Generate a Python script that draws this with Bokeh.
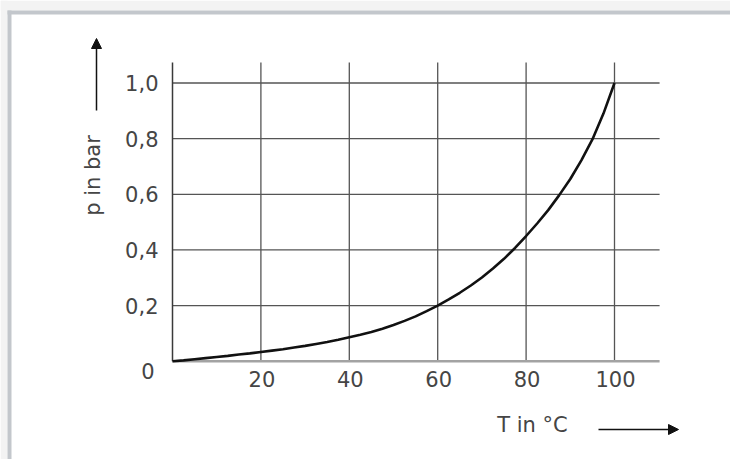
import math
from bokeh.plotting import figure
from bokeh.models import Range1d, Arrow, NormalHead, ColumnDataSource
from bokeh.core.properties import value
from bokeh.embed import file_html
from bokeh.resources import INLINE

# data (water vapour pressure curve)
temps = [0, 2.5, 5, 7.5, 10, 12.5, 15, 17.5, 20, 22.5, 25, 27.5, 30, 32.5, 35, 37.5,
         40, 42.5, 45, 47.5, 50, 52.5, 55, 57.5, 60, 62.5, 65, 67.5, 70, 72.5, 75,
         77.5, 80, 82.5, 85, 87.5, 90, 92.5, 95, 97.5, 100]
pressure = [0.0, 0.003, 0.007, 0.011, 0.015, 0.019, 0.024, 0.028, 0.033, 0.038, 0.043,
            0.049, 0.055, 0.062, 0.069, 0.077, 0.086, 0.095, 0.105, 0.117, 0.13, 0.145,
            0.161, 0.18, 0.2, 0.222, 0.246, 0.272, 0.301, 0.333, 0.368, 0.407, 0.45,
            0.495, 0.543, 0.597, 0.655, 0.722, 0.797, 0.89, 1.0]

x_ticks = [20, 40, 60, 80, 100]
x_tick_labels = ["20", "40", "60", "80", "100"]
y_ticks = [0.2, 0.4, 0.6, 0.8, 1.0]
y_tick_labels = ["0,2", "0,4", "0,6", "0,8", "1,0"]
zero_label = "0"
y_title = "p in bar"
x_title = "T in °C"

# plot extent in data units (grid reaches a little beyond the last tick)
X_MAX = 110.2
Y_MAX = 1.074

# layout: pixel position of the origin and pixel scale
W_FIG, H_FIG = 730, 459
OX, OY = 172, 360.7        # pixel of (0, 0)
SX, SY = 4.42, 278.2       # pixels per unit


def X(px):
    return (px - OX) / SX


def Y(py):
    return (OY - py) / SY


FONT = value("DejaVu Sans")
TXT = "#454545"
FS = "21px"

p = figure(width=W_FIG, height=H_FIG, output_backend="svg", toolbar_location=None,
           x_axis_type=None, y_axis_type=None,
           x_range=Range1d(X(0), X(W_FIG)), y_range=Range1d(Y(H_FIG), Y(0)),
           min_border=0)
p.background_fill_color = "white"
p.border_fill_color = "white"
p.outline_line_color = None
p.grid.visible = False

# page frame: light page background and grey border at top/left
p.quad(left=X(0), right=X(W_FIG), top=Y(0), bottom=Y(10), fill_color="#f3f3f3", line_color=None)
p.quad(left=X(0), right=X(7), top=Y(0), bottom=Y(H_FIG), fill_color="#f3f3f3", line_color=None)
p.quad(left=X(7), right=X(W_FIG), top=Y(10), bottom=Y(14), fill_color="#c3c7cc", line_color=None)
p.quad(left=X(7), right=X(11), top=Y(10), bottom=Y(H_FIG), fill_color="#c3c7cc", line_color=None)

# grid lines
p.segment(x0=x_ticks, y0=[0] * len(x_ticks), x1=x_ticks, y1=[Y_MAX] * len(x_ticks),
          line_color="#555555", line_width=1.3)
p.segment(x0=[0] * len(y_ticks), y0=y_ticks, x1=[X_MAX] * len(y_ticks), y1=y_ticks,
          line_color="#555555", line_width=1.3)

# axis lines
p.segment(x0=[0], y0=[0], x1=[X_MAX], y1=[0], line_color="#a3a3a3", line_width=2.5)
p.segment(x0=[0], y0=[0], x1=[0], y1=[Y_MAX], line_color="#3a3a3a", line_width=1.5)

# curve
p.line(temps, pressure, line_width=2.6, line_color="#111111")

# tick labels
p.text(x=x_ticks, y=[0] * len(x_ticks), text=x_tick_labels, x_offset=1, y_offset=18,
       text_align="center", text_baseline="middle",
       text_font=FONT, text_font_size=FS, text_color=TXT)
p.text(x=[0] * len(y_ticks), y=y_ticks, text=y_tick_labels, x_offset=-14, y_offset=0,
       text_align="right", text_baseline="middle",
       text_font=FONT, text_font_size=FS, text_color=TXT)
p.text(x=[0], y=[0], text=[zero_label], x_offset=-24.5, y_offset=10,
       text_align="center", text_baseline="middle",
       text_font=FONT, text_font_size=FS, text_color=TXT)

# axis titles
p.text(x=[X(92)], y=[Y(175)], text=[y_title], angle=math.pi / 2,
       text_align="center", text_baseline="middle",
       text_font=FONT, text_font_size=FS, text_color=TXT)
p.text(x=[X(532)], y=[Y(424)], text=[x_title],
       text_align="center", text_baseline="middle",
       text_font=FONT, text_font_size=FS, text_color=TXT)

# arrows next to the axis titles
p.add_layout(Arrow(x_start=X(96), y_start=Y(110), x_end=X(96), y_end=Y(38),
                   line_color="#111111", line_width=1.5,
                   end=NormalHead(size=10, fill_color="#111111", line_color="#111111")))
p.add_layout(Arrow(x_start=X(598), y_start=Y(429), x_end=X(678), y_end=Y(429),
                   line_color="#111111", line_width=1.5,
                   end=NormalHead(size=10, fill_color="#111111", line_color="#111111")))

open("out.html", "w").write(file_html(p, INLINE))
